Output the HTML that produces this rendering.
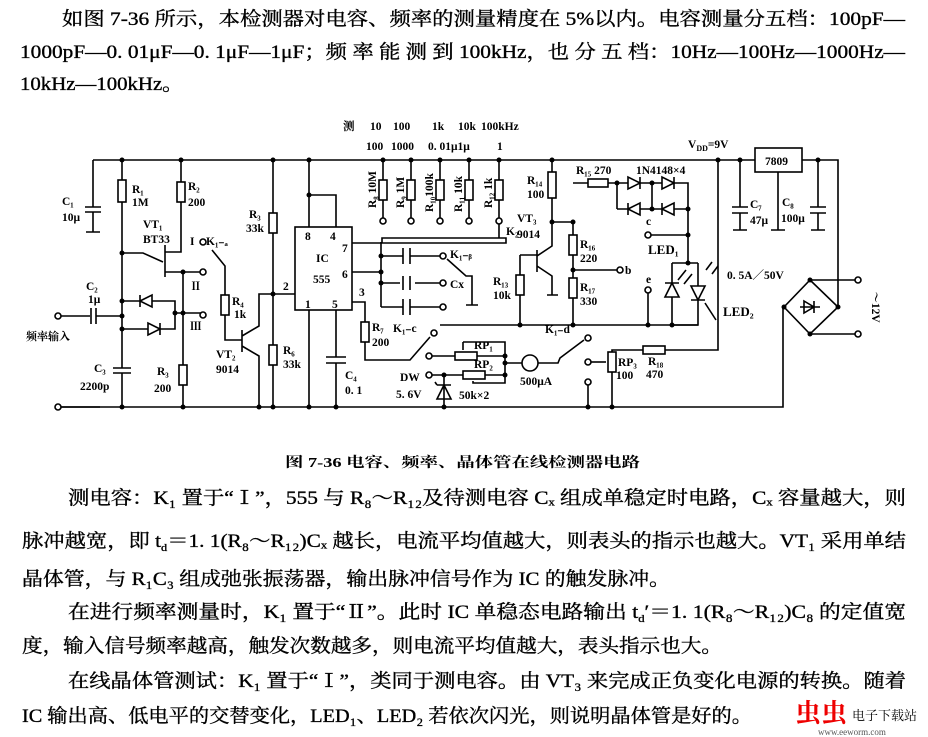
<!DOCTYPE html>
<html><head><meta charset="utf-8"><style>
html,body{margin:0;padding:0;background:#fff}
svg{display:block}
text{font-family:"Liberation Serif","Noto Serif CJK SC",serif;fill:#000}
.t{font-size:19px;stroke:#000;stroke-width:0.35}
.l{font-size:11.5px;font-weight:bold}
</style></head><body>
<svg width="928" height="737" viewBox="0 0 928 737" xmlns="http://www.w3.org/2000/svg">
<g class="t">
<text x="62" y="25" textLength="843" lengthAdjust="spacingAndGlyphs">如图 7-36 所示，本检测器对电容、频率的测量精度在 5%以内。电容测量分五档：100pF—</text>
<text x="20" y="58" textLength="885" lengthAdjust="spacingAndGlyphs">1000pF—0. 01μF—0. 1μF—1μF；频 率 能 测 到 100kHz，也 分 五 档：10Hz—100Hz—1000Hz—</text>
<text x="20" y="90" textLength="163" lengthAdjust="spacingAndGlyphs">10kHz—100kHz。</text>
</g>
<text x="285" y="467" font-size="14" font-weight="bold" textLength="355" lengthAdjust="spacingAndGlyphs">图 7-36   电容、频率、晶体管在线检测器电路</text>
<g class="t">
<text x="68" y="504" textLength="838" lengthAdjust="spacingAndGlyphs">测电容：K₁ 置于“Ⅰ”，555 与 R₈～R₁₂及待测电容 Cₓ 组成单稳定时电路，Cₓ 容量越大，则</text>
<text x="22" y="547" textLength="884" lengthAdjust="spacingAndGlyphs">脉冲越宽，即 t<tspan font-size="11" dy="4">d</tspan><tspan dy="-4">＝1. 1(R₈～R₁₂)Cₓ 越长，电流平均值越大，则表头的指示也越大。VT₁ 采用单结</tspan></text>
<text x="22" y="585" textLength="648" lengthAdjust="spacingAndGlyphs">晶体管，与 R₁C₃ 组成弛张振荡器，输出脉冲信号作为 IC 的触发脉冲。</text>
<text x="68" y="618" textLength="838" lengthAdjust="spacingAndGlyphs">在进行频率测量时，K₁ 置于“Ⅱ”。此时 IC 单稳态电路输出 t<tspan font-size="11" dy="4">d</tspan><tspan dy="-4">′＝1. 1(R₈～R₁₂)C₈ 的定值宽</tspan></text>
<text x="22" y="652" textLength="700" lengthAdjust="spacingAndGlyphs">度，输入信号频率越高，触发次数越多，则电流平均值越大，表头指示也大。</text>
<text x="68" y="687" textLength="838" lengthAdjust="spacingAndGlyphs">在线晶体管测试：K₁ 置于“Ⅰ”，类同于测电容。由 VT₃ 来完成正负变化电源的转换。随着</text>
<text x="22" y="722" textLength="730" lengthAdjust="spacingAndGlyphs">IC 输出高、低电平的交替变化，LED₁、LED₂ 若依次闪光，则说明晶体管是好的。</text>
</g>
<text x="795" y="722" font-size="26" font-weight="bold" style="fill:#e00">虫虫</text>
<text x="852" y="720" font-size="13">电子下载站</text>
<text x="818" y="735" font-size="9" style="fill:#555">www.eeworm.com</text>

<g stroke="#000" stroke-width="1.6" fill="none">
<path d="M93 160H802 M802 160H838V307 M60 407H783V307"/>
<path d="M58 316H122 M58 407H100"/>
<path d="M93 160V207 M85 207H101 M85 212H101 M93 212V232 M86 232H100"/>
<path d="M122 160V407"/>
<rect x="118" y="180" width="8" height="22" fill="#fff"/>
<path d="M181 160V252H165"/>
<rect x="177" y="182" width="8" height="20" fill="#fff"/>
<path d="M165 245V277 M122 253H143L163 262 M165 272H203 M183 272V407"/>
<rect x="179" y="365" width="8" height="20" fill="#fff"/>
<path d="M122 301H175V329H122 M175 313H203"/>
<path d="M140 301L152 295V307Z M140 295V307" fill="#fff"/>
<path d="M160 329L148 323V335Z M160 323V335" fill="#fff"/>
<rect x="90" y="310" width="6" height="12" fill="#fff" stroke="none"/>
<path d="M91 308V324 M96 308V324"/>
<rect x="113" y="368" width="18" height="5" fill="#fff" stroke="none"/>
<path d="M113 368H131 M113 373H131"/>
<circle cx="203" cy="242" r="3" fill="#fff"/><circle cx="203" cy="272" r="3" fill="#fff"/><circle cx="203" cy="315" r="3" fill="#fff"/>
<path d="M212 250L225 266V340H242"/>
<rect x="221" y="295" width="8" height="20" fill="#fff"/>
<path d="M242 330V352 M242 336L259 326V294H295 M242 346L259 356V407"/>
<path d="M273 160V407"/>
<rect x="269" y="213" width="8" height="20" fill="#fff"/>
<rect x="269" y="345" width="8" height="20" fill="#fff"/>
<rect x="295" y="227" width="57" height="83" fill="#fff"/>
<path d="M309 160V227 M309 195H336V227 M309 310V407 M336 310V407"/>
<rect x="326" y="357" width="20" height="6" fill="#fff" stroke="none"/>
<path d="M326 357H346 M326 363H346"/>
<path d="M352 243H382"/>
<path d="M382 238H506V243H382Z" stroke-width="1.6"/>
<path d="M381 242V307 M352 272H381 M381 256H403 M410 256H440 M381 283H400 M415 283H440 M381 307H403 M410 307H440"/>
<path d="M403 248V264 M410 248V264 M403 299V315 M410 299V315 M403 276V290 M410 276V290"/>
<circle cx="443" cy="256" r="3" fill="#fff"/><circle cx="443" cy="283" r="3" fill="#fff"/><circle cx="443" cy="307" r="3" fill="#fff"/>
<path d="M447 259L466 276H472V305 M466 305H478"/>
<path d="M383 160V218 M411 160V218 M440 160V218 M469 160V218 M499 160V218 M499 224V238"/>
<rect x="379" y="180" width="8" height="20" fill="#fff"/>
<rect x="407" y="180" width="8" height="20" fill="#fff"/>
<rect x="436" y="180" width="8" height="20" fill="#fff"/>
<rect x="465" y="180" width="8" height="20" fill="#fff"/>
<rect x="495" y="180" width="8" height="20" fill="#fff"/>
<circle cx="383" cy="221" r="3" fill="#fff"/><circle cx="411" cy="221" r="3" fill="#fff"/><circle cx="440" cy="221" r="3" fill="#fff"/><circle cx="469" cy="221" r="3" fill="#fff"/><circle cx="499" cy="221" r="3" fill="#fff"/>
<path d="M352 302H365V360H410L430 337"/>
<rect x="361" y="322" width="8" height="20" fill="#fff"/>
<circle cx="434" cy="333" r="3" fill="#fff"/><circle cx="429" cy="356" r="3" fill="#fff"/><circle cx="429" cy="375" r="3" fill="#fff"/>
<path d="M432 356H505 M432 375H505 M463 342V350 M463 342H505V383H473V381 M505 356V375 M440 325H698"/>
<rect x="455" y="352" width="22" height="8" fill="#fff"/>
<rect x="463" y="371" width="22" height="8" fill="#fff"/>
<path d="M444 375V407 M437 385H451 M444 385L437 399H451Z M437 385L435 382"/>
<path d="M505 363H522 M538 363H558L560 358L584 340"/>
<circle cx="530" cy="363" r="8" fill="#fff"/>
<circle cx="588" cy="338" r="3" fill="#fff"/>
<circle cx="588" cy="382" r="3" fill="#fff"/><path d="M588 385V407"/>
<circle cx="588" cy="362" r="3" fill="#fff"/><path d="M591 362H606"/>
<path d="M612 407V350H718V160"/>
<rect x="608" y="352" width="8" height="20" fill="#fff"/>
<rect x="643" y="346" width="22" height="8" fill="#fff"/>
<path d="M552 160V222H573 M537 250V272 M520 255H537 M520 255V325 M537 256L552 246V222 M537 266L552 276V295 M547 295H558"/>
<rect x="548" y="172" width="8" height="26" fill="#fff"/>
<rect x="516" y="275" width="8" height="20" fill="#fff"/>
<path d="M573 222V325 M573 183H617 M573 270H617"/>
<rect x="569" y="235" width="8" height="20" fill="#fff"/>
<rect x="569" y="278" width="8" height="20" fill="#fff"/>
<rect x="588" y="179" width="20" height="8" fill="#fff"/>
<circle cx="620" cy="270" r="3" fill="#fff"/>
<path d="M617 183H688V263 M617 209H688 M617 183V209 M652 183V209 M651 235H688"/>
<path d="M640 183L628 177V189Z M640 177V189 M674 183L662 177V189Z M674 177V189" fill="#fff"/>
<path d="M628 209L640 203V215Z M628 203V215 M662 209L674 203V215Z M662 203V215" fill="#fff"/>
<circle cx="648" cy="235" r="3" fill="#fff"/>
<circle cx="648" cy="290" r="3" fill="#fff"/><path d="M648 293V325"/>
<path d="M672 263H698 M672 263V325 M698 263V325H672"/>
<path d="M672 283L665 297H679Z M665 283H679 M698 300L691 286H705Z M691 300H705" fill="#fff"/>
<path d="M678 280L686 270 M684 284L692 274 M706 270L712 262 M712 274L718 266 M705 303L716 320"/>
<rect x="755" y="148" width="47" height="24" fill="#fff"/>
<path d="M740 160V207 M732 207H748 M732 213H748 M740 213V230 M733 230H747"/>
<path d="M818 160V207 M810 207H826 M810 213H826 M818 213V230 M811 230H825 M778 172V230 M771 230H785"/>
<path d="M810 280L838 307L810 334L784 307Z" fill="#fff"/>
<path d="M810 280H855 M810 334H855 M800 307H820 M814 301V313 M804 301L814 307L804 313Z"/>
<circle cx="858" cy="280" r="3" fill="#fff"/><circle cx="858" cy="334" r="3" fill="#fff"/>
<circle cx="58" cy="316" r="3" fill="#fff"/><circle cx="58" cy="407" r="3" fill="#fff"/>
</g>
<g fill="#000">
<circle cx="122" cy="160" r="2.5"/><circle cx="181" cy="160" r="2.5"/><circle cx="273" cy="160" r="2.5"/><circle cx="309" cy="160" r="2.5"/><circle cx="383" cy="160" r="2.5"/><circle cx="411" cy="160" r="2.5"/><circle cx="440" cy="160" r="2.5"/><circle cx="469" cy="160" r="2.5"/><circle cx="499" cy="160" r="2.5"/><circle cx="552" cy="160" r="2.5"/><circle cx="718" cy="160" r="2.5"/><circle cx="740" cy="160" r="2.5"/><circle cx="818" cy="160" r="2.5"/>
<circle cx="122" cy="253" r="2.5"/><circle cx="122" cy="301" r="2.5"/><circle cx="122" cy="316" r="2.5"/><circle cx="122" cy="329" r="2.5"/><circle cx="122" cy="407" r="2.5"/><circle cx="183" cy="272" r="2.5"/><circle cx="175" cy="313" r="2.5"/><circle cx="183" cy="313" r="2.5"/><circle cx="183" cy="407" r="2.5"/>
<circle cx="273" cy="294" r="2.5"/><circle cx="259" cy="407" r="2.5"/><circle cx="273" cy="407" r="2.5"/><circle cx="309" cy="195" r="2.5"/><circle cx="309" cy="407" r="2.5"/><circle cx="336" cy="407" r="2.5"/>
<circle cx="381" cy="256" r="2.5"/><circle cx="381" cy="272" r="2.5"/><circle cx="381" cy="283" r="2.5"/>
<circle cx="505" cy="356" r="2.5"/><circle cx="505" cy="363" r="2.5"/><circle cx="505" cy="375" r="2.5"/><circle cx="444" cy="375" r="2.5"/><circle cx="444" cy="407" r="2.5"/><circle cx="588" cy="407" r="2.5"/><circle cx="612" cy="407" r="2.5"/>
<circle cx="552" cy="222" r="2.5"/><circle cx="573" cy="222" r="2.5"/><circle cx="573" cy="270" r="2.5"/><circle cx="573" cy="325" r="2.5"/><circle cx="520" cy="325" r="2.5"/><circle cx="648" cy="325" r="2.5"/><circle cx="672" cy="325" r="2.5"/>
<circle cx="617" cy="183" r="2.5"/><circle cx="652" cy="183" r="2.5"/><circle cx="652" cy="209" r="2.5"/><circle cx="688" cy="209" r="2.5"/><circle cx="688" cy="235" r="2.5"/><circle cx="688" cy="263" r="2.5"/>
<circle cx="810" cy="280" r="2.5"/><circle cx="810" cy="334" r="2.5"/><circle cx="784" cy="307" r="2.5"/><circle cx="838" cy="307" r="2.5"/>
</g>
<g class="l">
<text x="343" y="130">测</text><text x="370" y="130">10</text><text x="393" y="130">100</text><text x="432" y="130">1k</text><text x="458" y="130">10k</text><text x="481" y="130">100kHz</text>
<text x="366" y="150">100</text><text x="391" y="150">1000</text><text x="428" y="150">0. 01μ1μ</text><text x="497" y="150">1</text>
<text x="62" y="205">C₁</text><text x="62" y="221">10μ</text>
<text x="132" y="193">R₁</text><text x="132" y="206">1M</text>
<text x="188" y="190">R₂</text><text x="188" y="206">200</text>
<text x="143" y="228">VT₁</text><text x="143" y="243">BT33</text>
<text x="190" y="245">I</text><text x="206" y="245">K₁₋ₐ</text>
<text x="190" y="290">Ⅱ</text><text x="190" y="330">Ⅲ</text>
<text x="86" y="290">C₂</text><text x="88" y="303">1μ</text>
<text x="26" y="340" font-size="11">频率输入</text>
<text x="94" y="372">C₃</text><text x="80" y="390">2200p</text>
<text x="157" y="375">R₃</text><text x="154" y="392">200</text>
<text x="232" y="305">R₄</text><text x="234" y="318">1k</text>
<text x="216" y="358">VT₂</text><text x="216" y="373">9014</text>
<text x="249" y="218">R₃</text><text x="246" y="232">33k</text>
<text x="283" y="354">R₆</text><text x="283" y="368">33k</text>
<text x="305" y="240">8</text><text x="330" y="240">4</text><text x="342" y="252">7</text><text x="342" y="278">6</text><text x="316" y="262">IC</text><text x="313" y="283">555</text><text x="305" y="308">1</text><text x="332" y="308">5</text><text x="359" y="296">3</text><text x="283" y="290">2</text>
<text x="345" y="379">C₄</text><text x="345" y="394">0. 1</text>
<text x="450" y="258">K₁₋ᵦ</text><text x="450" y="288">Cx</text>
<text x="372" y="331">R₇</text><text x="372" y="346">200</text><text x="393" y="332">K₁₋c</text>
<text x="474" y="349">RP₁</text><text x="474" y="368">RP₂</text>
<text x="400" y="381">DW</text><text x="396" y="398">5. 6V</text><text x="459" y="399">50k×2</text>
<text x="545" y="333">K₁₋d</text><text x="520" y="385">500μA</text>
<text x="618" y="366">RP₃</text><text x="616" y="379">100</text><text x="648" y="365">R₁₈</text><text x="646" y="378">470</text>
<text x="527" y="184">R₁₄</text><text x="527" y="198">100</text>
<text x="517" y="222">VT₃</text><text x="517" y="238">9014</text>
<text x="493" y="285">R₁₃</text><text x="493" y="299">10k</text>
<text x="580" y="248">R₁₆</text><text x="580" y="262">220</text><text x="580" y="291">R₁₇</text><text x="580" y="305">330</text>
<text x="576" y="174">R₁₅ 270</text><text x="636" y="174">1N4148×4</text>
<text x="646" y="225">c</text><text x="625" y="274">b</text><text x="646" y="283">e</text>
<text x="648" y="254" font-size="13">LED₁</text><text x="723" y="316" font-size="13">LED₂</text>
<text x="727" y="279">0. 5A／50V</text>
<text x="688" y="148">V<tspan font-size="8" dy="3">DD</tspan><tspan dy="-3">=9V</tspan></text>
<text x="765" y="165">7809</text>
<text x="750" y="208">C₇</text><text x="750" y="224">47μ</text><text x="782" y="206">C₈</text><text x="781" y="222">100μ</text>
<text x="506" y="235">K₂</text>
<text transform="translate(872 307) rotate(90)" text-anchor="middle">～12V</text>
<text transform="translate(376 208) rotate(-90)">R₈ 10M</text>
<text transform="translate(404 208) rotate(-90)">R₉ 1M</text>
<text transform="translate(433 212) rotate(-90)">R₁₀100k</text>
<text transform="translate(462 212) rotate(-90)">R₁₁ 10k</text>
<text transform="translate(492 208) rotate(-90)">R₁₂ 1k</text>
</g>
</svg>
</body></html>
